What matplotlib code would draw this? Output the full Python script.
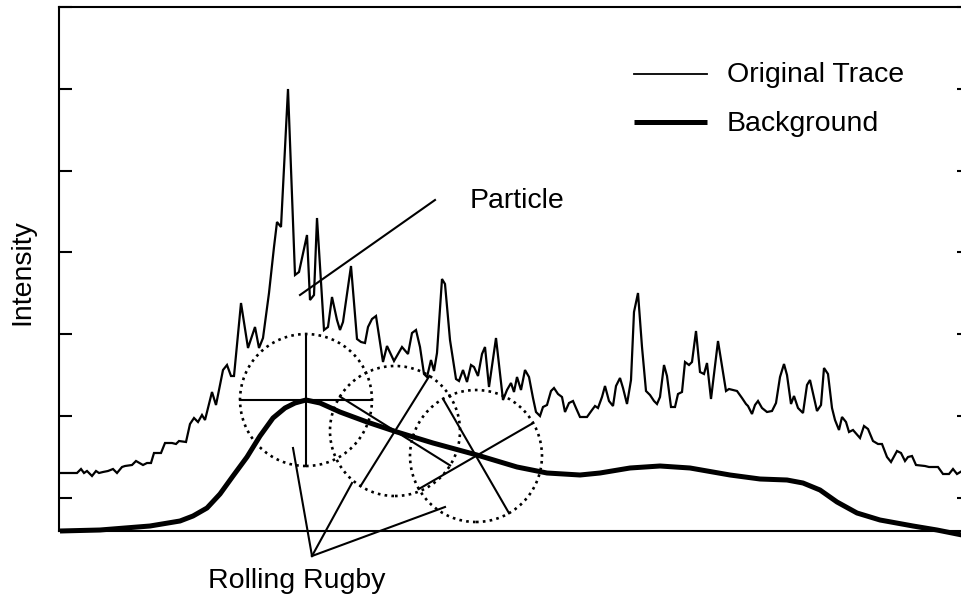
#!/usr/bin/env python3
"""Schematic of rolling-ball (rugby) background subtraction on an intensity trace."""

import matplotlib

matplotlib.use("Agg")
import matplotlib.pyplot as plt
import numpy as np
from matplotlib.patches import Circle

plt.rcParams["font.family"] = ["Liberation Sans", "DejaVu Sans"]

# Original trace (channel, intensity)
TRACE_X = [
    0, 17, 21, 24, 27, 32, 36, 39, 43, 48, 53, 57, 62, 65, 72, 76, 83, 87, 91, 94,
    101, 105, 112, 116, 119, 126, 130, 134, 138, 142, 145, 152, 156, 163, 167, 171,
    174, 181, 188, 195, 199, 203, 209, 214, 217, 221, 228, 235, 239, 247, 250, 254,
    257, 264, 268, 272, 277, 280, 283, 291, 297, 301, 305, 308, 312, 316, 323, 327,
    334, 342, 348, 352, 356, 360, 364, 367, 371, 374, 377, 382, 385, 390, 396, 399,
    403, 407, 411, 414, 418, 422, 425, 429, 436, 443, 447, 451, 454, 457, 461, 465,
    469, 473, 476, 480, 483, 487, 491, 494, 498, 502, 505, 509, 513, 516, 520, 527,
    532, 535, 538, 542, 545, 549, 553, 556, 560, 563, 567, 571, 574, 578, 582, 586,
    590, 594, 597, 600, 604, 607, 611, 615, 618, 622, 625, 629, 632, 636, 640, 644,
    647, 651, 658, 666, 669, 677, 682, 686, 688, 692, 695, 698, 702, 707, 712, 716,
    720, 724, 727, 731, 734, 738, 743, 747, 750, 757, 761, 764, 768, 772, 775, 779,
    782, 786, 789, 793, 800, 804, 808, 813, 818, 822, 827, 831, 837, 841, 845, 848,
    852, 856, 865, 869, 878, 883, 889, 893, 897, 902,
]
TRACE_Y = [
    58, 58, 62, 58, 60, 55, 60, 58, 59, 60, 62, 58, 64, 65, 66, 70, 66, 68, 68, 78,
    78, 88, 88, 87, 90, 89, 107, 113, 109, 116, 111, 139, 126, 161, 166, 155,
    155, 228, 183, 204, 183, 193, 238, 284, 309, 304, 442, 256, 259, 296, 231, 236,
    313, 201, 204, 234, 211, 201, 209, 265, 192, 189, 188, 204, 212, 215, 169, 185,
    170, 184, 177, 198, 201, 184, 157, 154, 171, 160, 178, 252, 247, 191, 152, 150,
    161, 149, 166, 164, 155, 177, 184, 144, 193, 131, 141, 148, 139, 154, 141, 161,
    154, 133, 119, 115, 124, 126, 140, 143, 137, 134, 119, 128, 130, 123, 114, 114,
    121, 125, 123, 134, 145, 130, 125, 145, 153, 143, 127, 151, 219, 238, 184, 140,
    136, 130, 127, 134, 166, 155, 124, 124, 137, 139, 169, 166, 169, 200, 159, 157,
    168, 132, 190, 140, 142, 140, 133, 127, 125, 117, 126, 130, 123, 119, 120, 128,
    154, 167, 156, 127, 135, 123, 118, 146, 151, 120, 126, 163, 157, 123, 111, 101,
    114, 109, 99, 101, 93, 105, 102, 90, 87, 87, 74, 69, 80, 78, 70, 74,
    75, 66, 65, 64, 64, 57, 57, 62, 57, 60,
]

# Estimated background (channel, intensity)
BG_X = [0, 40, 90, 120, 133, 147, 160, 173, 187, 200, 213, 225, 235, 246,
        260, 280, 307, 337, 373, 417, 457, 487, 520, 540, 570, 600, 630, 670,
        700, 727, 743, 760, 777, 797, 820, 853, 877, 902]
BG_Y = [0, 1, 5, 10, 15, 23, 37, 55, 74, 95, 113, 123, 128, 131,
        128, 119, 109, 99, 88, 76, 64, 58, 56, 58, 63, 65, 63, 56,
        52, 51, 48, 41, 29, 18, 11, 5, 1, -4]

# Rolling rugby positions: centre, radius and orientation of the two diameters
RUGBY_X = [246, 335, 416]
RUGBY_Y = [131, 100, 75]
RUGBY_R = [66, 65, 66]
RUGBY_ANGLES = [(0, 90), (58, -32), (120, 30)]

Y_TICKS = [33, 115, 197, 279, 360, 442, 524]


def main():
    fig = plt.figure(figsize=(9.62, 5.97), dpi=100)
    ax = fig.add_axes([59.5 / 962, 66 / 597, 910.5 / 962, 524 / 597])
    ax.set_xlim(-0.5, 910)
    ax.set_ylim(0, 524)

    ax.plot(TRACE_X, TRACE_Y, color="black", lw=1.6, solid_joinstyle="miter")
    ax.plot(BG_X, BG_Y, color="black", lw=3.6, solid_capstyle="butt",
            solid_joinstyle="round", clip_on=False)

    for cx, cy, r, angles in zip(RUGBY_X, RUGBY_Y, RUGBY_R, RUGBY_ANGLES):
        ax.add_patch(Circle((cx, cy), r, fill=False, ls=(0, (1, 1.6)), lw=1.9,
                            color="black"))
        for a in angles:
            dx = r * np.cos(np.radians(a))
            dy = r * np.sin(np.radians(a))
            ax.plot([cx - dx, cx + dx], [cy - dy, cy + dy], color="black", lw=1.5)

    # legend drawn by hand
    ax.plot([574, 647], [457, 457], color="black", lw=1.3)
    ax.plot([574, 647], [409, 409], color="black", lw=3.6, solid_capstyle="butt")
    ax.text(667, 449, "Original Trace", fontsize=20.5, va="baseline")
    ax.text(667, 400, "Background", fontsize=20.5, va="baseline")

    # annotations
    ax.plot([240, 375], [236, 331], color="black", lw=1.5)
    ax.text(410, 323, "Particle", fontsize=20.5, va="baseline")

    apex = (252, -25)
    for ex, ey in [(233, 83), (292, 48), (385, 24)]:
        ax.plot([apex[0], ex], [apex[1], ey], color="black", lw=1.5, clip_on=False)
    ax.text(148, -57, "Rolling Rugby", fontsize=20.5, va="baseline", clip_on=False)

    ax.text(-38, 259, "Intensity", fontsize=20.5, rotation=90,
            ha="center", va="center", clip_on=False)

    ax.set_xticks([])
    ax.set_yticks(Y_TICKS)
    ax.set_yticklabels([])
    ax.tick_params(axis="y", direction="in", length=9.5, width=1.5,
                   left=True, right=True)
    for s in ax.spines.values():
        s.set_linewidth(1.5)

    fig.savefig("out.png", dpi=100)
    plt.close(fig)


if __name__ == "__main__":
    main()
